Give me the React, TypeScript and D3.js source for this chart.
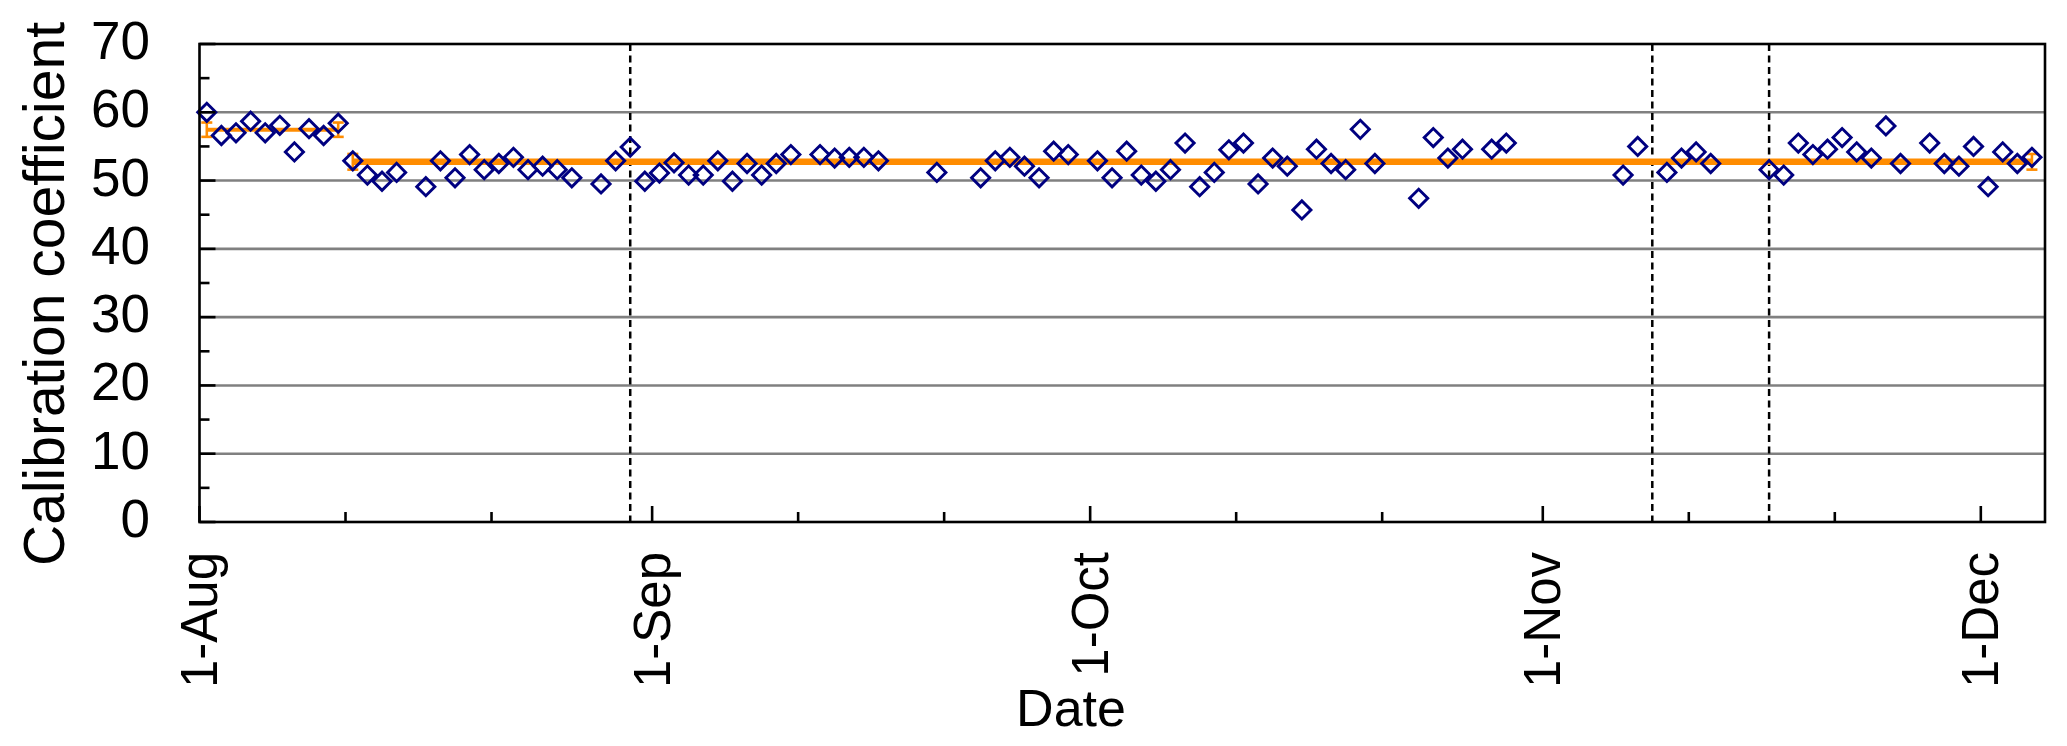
import React from "react";
import * as d3 from "d3";

// daily calibration results (date, coefficient)
const sampleDates = [
  "2013-08-01", "2013-08-02", "2013-08-03", "2013-08-04", "2013-08-05", "2013-08-06", "2013-08-07", "2013-08-08", "2013-08-09", "2013-08-10",
  "2013-08-11", "2013-08-12", "2013-08-13", "2013-08-14", "2013-08-16", "2013-08-17", "2013-08-18", "2013-08-19", "2013-08-20", "2013-08-21",
  "2013-08-22", "2013-08-23", "2013-08-24", "2013-08-25", "2013-08-26", "2013-08-28", "2013-08-29", "2013-08-30", "2013-08-31",
  "2013-09-01", "2013-09-02", "2013-09-03", "2013-09-04", "2013-09-05", "2013-09-06", "2013-09-07", "2013-09-08", "2013-09-09", "2013-09-10",
  "2013-09-12", "2013-09-13", "2013-09-14", "2013-09-15", "2013-09-16", "2013-09-20", "2013-09-23", "2013-09-24", "2013-09-25", "2013-09-26",
  "2013-09-27", "2013-09-28", "2013-09-29",
  "2013-10-01", "2013-10-02", "2013-10-03", "2013-10-04", "2013-10-05", "2013-10-06", "2013-10-07", "2013-10-08", "2013-10-09", "2013-10-10",
  "2013-10-11", "2013-10-12", "2013-10-13", "2013-10-14", "2013-10-15", "2013-10-16", "2013-10-17", "2013-10-18", "2013-10-19", "2013-10-20",
  "2013-10-23", "2013-10-24", "2013-10-25", "2013-10-26", "2013-10-28", "2013-10-29",
  "2013-11-06", "2013-11-07", "2013-11-09", "2013-11-10", "2013-11-11", "2013-11-12", "2013-11-16", "2013-11-17", "2013-11-18", "2013-11-19",
  "2013-11-20", "2013-11-21", "2013-11-22", "2013-11-23", "2013-11-24", "2013-11-25", "2013-11-27", "2013-11-28", "2013-11-29", "2013-11-30",
  "2013-12-01", "2013-12-02", "2013-12-03", "2013-12-04",
];

const coefficients = [
  60.0, 56.6, 57.0, 58.7, 57.0, 58.1, 54.2, 57.6, 56.6, 58.4,
  52.9, 50.8, 49.9, 51.2, 49.1, 52.9, 50.4, 53.8, 51.6, 52.5,
  53.4, 51.6, 52.1, 51.6, 50.4, 49.5, 52.9, 54.9, 49.9,
  51.1, 52.6, 50.8, 50.8, 52.9, 49.9, 52.5, 50.8, 52.5, 53.8,
  53.8, 53.3, 53.4, 53.4, 52.9, 51.2, 50.4, 52.9, 53.4, 52.1,
  50.4, 54.3, 53.8,
  52.9, 50.4, 54.3, 50.8, 49.9, 51.6, 55.5, 49.1, 51.2, 54.5,
  55.5, 49.5, 53.3, 52.1, 45.7, 54.6, 52.5, 51.6, 57.5, 52.5,
  47.4, 56.3, 53.3, 54.6, 54.6, 55.5,
  50.8, 55.0, 51.2, 53.3, 54.2, 52.5, 51.6, 50.8, 55.5, 53.8,
  54.6, 56.3, 54.2, 53.3, 58.0, 52.5, 55.5, 52.5, 52.1, 55.0,
  49.1, 54.2, 52.5, 53.4,
];

// mean coefficient of each calibration period, with its standard deviation
const periodStarts = ["2013-08-01", "2013-08-11"];
const periodEnds = ["2013-08-10", "2013-12-04"];
const periodMeans = [57.45, 52.75];
const periodSd = [1.05, 1.15];

// instrument events marked with dashed lines
const eventDates = ["2013-08-30", "2013-11-08", "2013-11-16"];

const yTicks = [0, 10, 20, 30, 40, 50, 60, 70];
const yMinorTicks = [5, 15, 25, 35, 45, 55, 65];
const axisStart = "2013-08-01";
const axisEnd = "2013-12-05T09:30";

const W = 2067;
const H = 746;
const margin = { top: 44, right: 22, bottom: 224, left: 199.5 };
const FONT = "'Liberation Sans', Arial, Helvetica, sans-serif";
const NAVY = "#000080";
const ORANGE = "#FF8C00";

const parseDay = d3.utcParse("%Y-%m-%d");
const noon = (s: string) => d3.utcHour.offset(parseDay(s) as Date, 12);

const App = () => {
  const x0 = margin.left;
  const x1 = W - margin.right;
  const y0 = H - margin.bottom;
  const y1 = margin.top;

  const xScale = d3
    .scaleUtc()
    .domain([parseDay(axisStart) as Date, d3.utcParse("%Y-%m-%dT%H:%M")(axisEnd) as Date])
    .range([x0, x1]);

  const yScale = d3.scaleLinear().domain([0, 70]).range([y0, y1]);

  const points = sampleDates.map((d, i) => ({ date: noon(d), value: coefficients[i] }));

  const majorX = d3.utcMonth.range(xScale.domain()[0], xScale.domain()[1]);
  const minorX = majorX
    .flatMap((m) => [d3.utcDay.offset(m, 10), d3.utcDay.offset(m, 20)])
    .filter((d) => d < xScale.domain()[1]);
  const fmt = d3.utcFormat("%-d-%b");

  const diamond = d3.symbol(d3.symbolSquare, 165)();

  return (
    <svg
      width={W}
      height={H}
      style={{ position: "absolute", left: 0, top: 0, background: "#fff" }}
      fontFamily={FONT}
    >
      {/* horizontal gridlines */}
      {yTicks
        .filter((t) => t > 0 && t < 70)
        .map((t) => (
          <line key={"g" + t} x1={x0} x2={x1} y1={yScale(t)} y2={yScale(t)} stroke="#808080" strokeWidth={2.6} />
        ))}

      {/* event markers */}
      {eventDates.map((d) => (
        <line
          key={d}
          x1={xScale(noon(d))}
          x2={xScale(noon(d))}
          y1={y1}
          y2={y0}
          stroke="#000"
          strokeWidth={2.5}
          strokeDasharray="7 4.5"
        />
      ))}

      {/* period means with error bars */}
      {periodMeans.map((m, i) => {
        const xa = xScale(noon(periodStarts[i]));
        const xb = xScale(noon(periodEnds[i]));
        const ym = yScale(m);
        const hi = yScale(m + periodSd[i]);
        const lo = yScale(m - periodSd[i]);
        return (
          <g key={"p" + i} stroke={ORANGE}>
            <line x1={xa} x2={xb} y1={ym} y2={ym} strokeWidth={i === 0 ? 4 : 6.5} />
            {[xa, xb].map((xx, j) => (
              <g key={j} strokeWidth={2.6}>
                <line x1={xx} x2={xx} y1={hi} y2={lo} />
                <line x1={xx - 5.5} x2={xx + 5.5} y1={hi} y2={hi} />
                <line x1={xx - 5.5} x2={xx + 5.5} y1={lo} y2={lo} />
              </g>
            ))}
          </g>
        );
      })}

      {/* measurements */}
      {points.map((p, i) => (
        <path
          key={"d" + i}
          d={diamond as string}
          transform={`translate(${xScale(p.date)},${yScale(p.value)}) rotate(45)`}
          fill="none"
          stroke={NAVY}
          strokeWidth={2.9}
        />
      ))}

      {/* frame */}
      <rect x={x0} y={y1} width={x1 - x0} height={y0 - y1} fill="none" stroke="#000" strokeWidth={2.6} />

      {/* y ticks */}
      {yTicks.map((t) => (
        <g key={"yt" + t}>
          <line x1={x0} x2={x0 + 16} y1={yScale(t)} y2={yScale(t)} stroke="#000" strokeWidth={2.6} />
          <text x={150} y={yScale(t) + 15} textAnchor="end" fontSize={53} fill="#000">
            {t}
          </text>
        </g>
      ))}
      {yMinorTicks.map((t) => (
        <line key={"ym" + t} x1={x0} x2={x0 + 10} y1={yScale(t)} y2={yScale(t)} stroke="#000" strokeWidth={2.6} />
      ))}

      {/* x ticks */}
      {majorX.map((d) => (
        <g key={"xt" + d.toISOString()}>
          <line x1={xScale(d)} x2={xScale(d)} y1={y0} y2={y0 - 16} stroke="#000" strokeWidth={2.6} />
          <text
            transform={`translate(${xScale(d)},552) rotate(-90)`}
            textAnchor="end"
            dominantBaseline="central"
            fontSize={51}
            fill="#000"
          >
            {fmt(d)}
          </text>
        </g>
      ))}
      {minorX.map((d) => (
        <line
          key={"xm" + d.toISOString()}
          x1={xScale(d)}
          x2={xScale(d)}
          y1={y0}
          y2={y0 - 10}
          stroke="#000"
          strokeWidth={2.6}
        />
      ))}

      {/* axis titles */}
      <text transform="translate(64,294) rotate(-90)" textAnchor="middle" fontSize={57} fill="#000">
        Calibration coefficient
      </text>
      <text x={1071} y={726} textAnchor="middle" fontSize={52} fill="#000">
        Date
      </text>
    </svg>
  );
};

export default App;
